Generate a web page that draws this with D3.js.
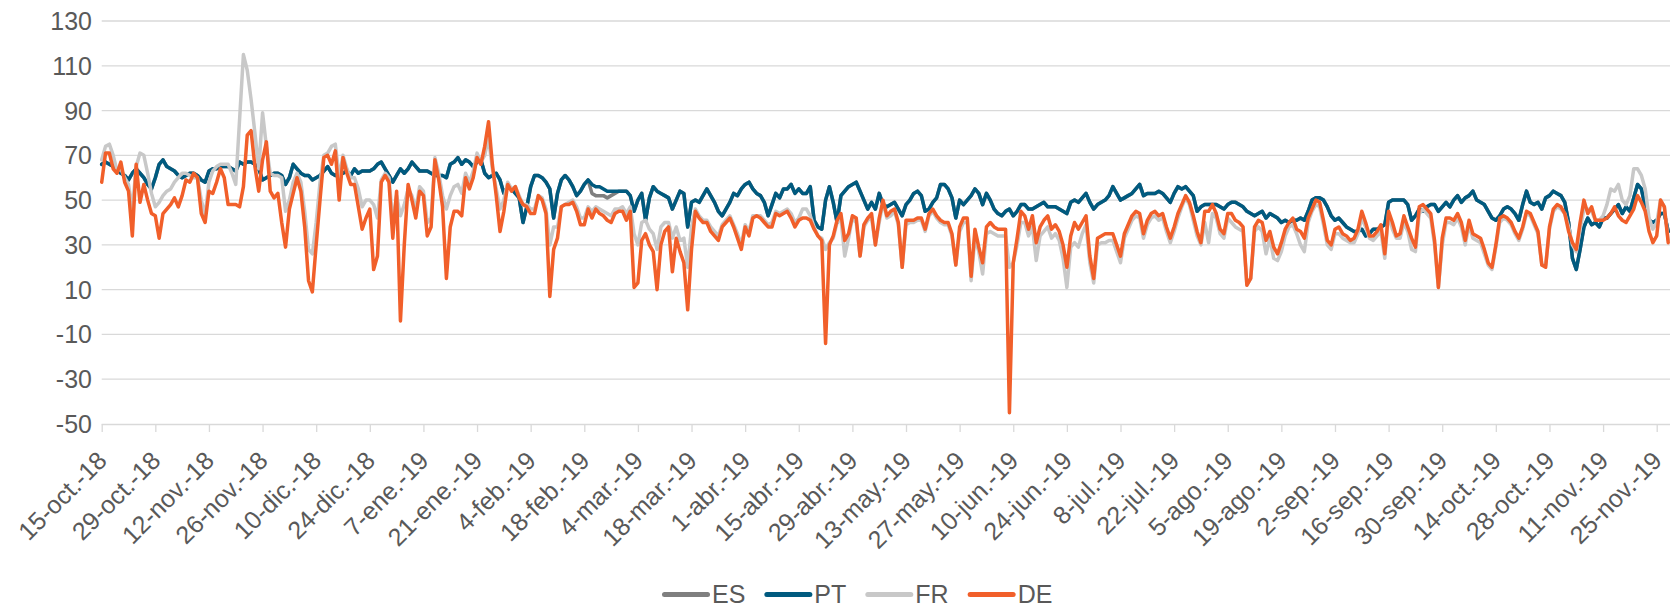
<!DOCTYPE html>
<html><head><meta charset="utf-8">
<script src="https://cdn.jsdelivr.net/npm/d3@7"></script>
<style>body{margin:0;background:#fff;overflow:hidden} text{font-family:"Liberation Sans",Arial,sans-serif}</style>
</head><body><svg id="c" width="1670" height="610"></svg>
<script>
const startDate = "2018-10-15";
const tickDates = ["2018-10-15","2018-10-29","2018-11-12","2018-11-26","2018-12-10","2018-12-24","2019-01-07","2019-01-21","2019-02-04","2019-02-18","2019-03-04","2019-03-18","2019-04-01","2019-04-15","2019-04-29","2019-05-13","2019-05-27","2019-06-10","2019-06-24","2019-07-08","2019-07-22","2019-08-05","2019-08-19","2019-09-02","2019-09-16","2019-09-30","2019-10-14","2019-10-28","2019-11-11","2019-11-25"];
const tickLabels = ["15-oct.-18","29-oct.-18","12-nov.-18","26-nov.-18","10-dic.-18","24-dic.-18","7-ene.-19","21-ene.-19","4-feb.-19","18-feb.-19","4-mar.-19","18-mar.-19","1-abr.-19","15-abr.-19","29-abr.-19","13-may.-19","27-may.-19","10-jun.-19","24-jun.-19","8-jul.-19","22-jul.-19","5-ago.-19","19-ago.-19","2-sep.-19","16-sep.-19","30-sep.-19","14-oct.-19","28-oct.-19","11-nov.-19","25-nov.-19"];
const yTicks = [-50,-30,-10,10,30,50,70,90,110,130];
const seriesNames = ["ES","PT","FR","DE"];
const seriesColors = ["#7f7f7f","#005a7f","#c8c8c8","#f15f2a"];

const ES = [
66,67,66,65,64,62,61,59,62,64, 62,60,57,55,60,66,68,65,64,63, 61,60,61,62,62,61,59,58,63,64, 64,65,65,65,64,63,67,66,67,67,
66,64,59,60,61,62,62,61,57,60, 66,64,62,61,61,59,60,61,63,65, 62,61,62,62,63,61,64,62,63,63, 63,64,66,67,64,61,58,61,64,62,
64,67,65,63,63,63,62,61,61,61, 60,66,67,69,66,68,67,65,67,68, 62,60,61,62,59,53,56,55,53,51, 40,47,56,61,61,60,58,55,42,53,
59,61,59,56,52,54,57,59,53,52, 52,52,51,52,53,54,54,54,52,45, 50,53,41,51,56,54,53,52,51,46, 50,54,53,38,49,50,49,52,55,52,
49,45,43,46,49,53,52,55,57,58, 55,53,52,49,43,48,53,51,55,55, 57,53,55,53,53,56,41,38,37,50, 56,49,40,52,54,56,57,58,54,50,
46,49,46,53,48,47,48,49,46,43, 48,50,53,54,52,45,46,49,51,57, 57,55,51,42,50,48,50,52,55,53, 48,53,50,46,44,43,45,46,43,45,
48,48,46,46,47,48,49,47,47,47, 46,45,44,49,50,49,51,53,49,46, 48,49,50,52,56,53,50,51,52,53, 55,57,52,53,53,53,54,53,51,49,
53,56,55,56,54,52,45,47,48,48, 48,48,47,46,48,49,49,48,47,45, 44,43,44,45,42,44,43,42,40,41, 40,41,41,42,41,45,50,51,51,50,
47,43,41,42,40,38,37,36,36,37, 34,35,37,37,38,39,49,50,50,50, 50,48,41,43,46,45,47,48,48,45, 47,49,47,50,52,49,51,52,54,50,
49,48,45,42,41,43,46,47,46,44, 41,48,54,49,48,49,46,51,52,54, 53,52,49,40,24,19,28,38,42,39, 40,38,42,42,44,46,48,44,47,45,
51,57,55,47,41,40,41,44,44,36];

const PT = [
66,67,66,65,64,62,61,59,62,64, 62,60,57,55,60,66,68,65,64,63, 61,60,61,62,62,61,59,58,63,64, 64,65,65,65,64,63,67,66,67,67,
66,64,59,60,61,62,62,61,57,60, 66,64,62,61,61,59,60,61,63,65, 62,61,62,62,63,61,64,62,63,63, 63,64,66,67,64,61,58,61,64,62,
64,67,65,63,63,63,62,61,61,61, 60,66,67,69,66,68,67,65,67,68, 62,60,61,62,59,53,56,55,53,51, 40,47,56,61,61,60,58,55,42,53,
59,61,59,56,52,54,57,59,57,56, 56,55,54,54,54,54,54,54,52,45, 50,53,41,51,56,54,53,52,51,46, 50,54,53,38,49,50,49,52,55,52,
49,45,43,46,49,53,52,55,57,58, 55,53,52,49,43,48,53,51,55,55, 57,53,55,53,53,56,41,38,37,50, 56,49,40,52,54,56,57,58,54,50,
46,49,46,53,48,47,48,49,46,43, 48,50,53,54,52,45,46,49,51,57, 57,55,51,42,50,48,50,52,55,53, 48,53,50,46,44,43,45,46,43,45,
48,48,46,46,47,48,49,47,47,47, 46,45,44,49,50,49,51,53,49,46, 48,49,50,52,56,53,50,51,52,53, 55,57,52,53,53,53,54,53,51,49,
53,56,55,56,54,52,45,47,48,48, 48,48,47,46,48,49,49,48,47,45, 44,43,44,45,42,44,43,42,40,41, 40,41,41,42,41,45,50,51,51,50,
47,43,41,42,40,38,37,36,36,37, 34,35,37,37,38,39,49,50,50,50, 50,48,41,43,46,45,47,48,48,45, 47,49,47,50,52,49,51,52,54,50,
49,48,45,42,41,43,46,47,46,44, 41,48,54,49,48,49,46,51,52,54, 53,52,49,40,24,19,28,38,42,39, 40,38,42,42,44,46,48,44,47,45,
51,57,55,47,41,40,41,44,44,36];

const FR = [
68,74,75,70,63,64,60,57,46,65, 71,70,62,53,47,49,52,54,55,58, 60,62,62,61,60,60,50,43,58,63, 65,66,66,66,62,57,86,115,108,95,
80,64,89,74,62,61,61,60,45,50, 58,62,58,45,28,26,40,58,70,71, 74,75,60,70,64,60,60,55,47,50, 50,48,42,59,62,60,40,52,43,48,
55,52,46,56,54,40,42,69,62,52, 46,52,56,57,53,62,58,63,71,67, 70,78,64,55,46,50,58,55,56,52, 48,48,46,46,52,51,46,30,38,38,
47,48,49,50,47,42,42,47,45,47, 46,45,44,43,46,46,47,44,47,35, 30,40,41,37,35,28,38,40,40,33, 38,32,33,20,38,46,43,41,41,38,
36,34,39,41,43,39,35,30,39,36, 43,43,43,41,39,40,45,44,45,46, 44,40,42,46,46,43,38,34,33,28, 31,33,40,42,25,33,42,40,25,38,
41,42,30,40,49,42,43,45,39,20, 39,40,40,41,41,36,43,45,42,40, 39,39,34,21,36,40,40,14,33,27, 17,35,36,35,34,34,34,20,22,30,
40,40,34,38,23,34,36,38,33,35, 32,24,11,29,31,29,35,39,22,13, 30,31,31,32,32,27,22,33,37,41, 43,42,33,39,42,43,41,42,36,31,
36,42,47,51,48,41,34,30,40,31, 44,42,35,33,42,40,38,37,36,12, 15,36,38,36,26,33,24,23,27,34, 38,39,35,30,27,40,45,48,47,39,
30,28,35,35,33,32,31,31,35,42, 38,33,32,34,36,24,44,37,33,33, 40,36,28,27,44,46,44,42,30,11, 30,40,40,39,42,38,30,39,33,32,
31,26,21,19,29,40,42,41,39,35, 32,37,44,43,39,35,21,21,37,45, 47,46,44,38,30,27,37,46,46,45, 41,41,43,48,55,54,57,50,48,52,
64,64,61,55,42,37,40,50,47,32];

const DE = [
58,71,71,64,62,67,58,54,34,66, 49,57,50,44,43,33,44,46,48,51, 47,52,59,58,62,60,44,40,54,53, 58,64,60,48,48,48,47,56,79,81,
65,54,68,76,54,51,53,40,29,46, 53,60,54,38,14,9,30,50,69,70, 66,72,50,69,62,57,57,47,37,42, 46,19,25,58,61,58,33,54,-4,30,
57,50,42,54,52,34,38,68,59,47, 15,38,45,45,43,60,55,60,69,66, 74,85,66,52,36,45,57,54,56,51, 48,47,44,44,52,50,44,7,28,33,
47,48,48,49,45,39,39,46,42,46, 44,43,41,40,44,45,45,41,45,11, 13,32,35,30,27,10,30,36,38,18, 33,27,22,1,28,45,42,40,40,36,
34,32,38,40,42,38,33,28,38,34, 42,43,42,40,38,38,44,43,44,45, 42,38,41,42,42,41,37,34,32,-14, 30,34,41,44,32,35,43,42,25,39,
42,44,30,42,50,43,45,46,40,20, 41,41,41,42,42,37,44,46,43,41, 40,40,35,21,38,42,42,16,37,29, 22,38,40,38,37,37,37,-45,22,33,
45,43,37,43,31,38,41,43,37,39, 36,30,20,34,40,37,40,43,25,15, 33,34,35,35,35,30,25,35,39,43, 45,44,35,41,44,45,43,44,38,33,
38,44,48,52,49,43,36,31,45,45, 48,44,37,35,44,44,41,40,38,12, 15,38,41,40,32,36,29,26,31,37, 40,42,37,36,33,42,46,50,49,41,
32,30,37,38,35,34,32,33,37,45, 40,34,34,36,39,26,45,40,34,35, 43,38,33,29,47,48,46,44,32,11, 33,42,42,41,44,40,32,41,35,34,
33,28,22,20,30,42,43,42,40,36, 33,38,45,44,40,36,21,20,38,46, 48,47,44,36,31,28,40,50,44,47, 41,41,41,42,44,47,43,41,40,43,
46,52,49,45,36,31,34,50,47,31];

const seriesValues = [ES, PT, FR, DE];

const svg = d3.select("#c");
svg.append("rect").attr("width",1670).attr("height",610).attr("fill","#fff");
const start = new Date(startDate + "T00:00:00Z");
const nDays = DE.length;
const dates = d3.range(nDays).map(i => d3.utcDay.offset(start, i));
const x = d3.scaleUtc().domain([dates[0], dates[nDays-1]]).range([101.7, 1668.2]);
const y = d3.scaleLinear().domain([-50,130]).range([424,21]);

// gridlines
svg.append("g").selectAll("line").data(yTicks.filter(v=>v>-50)).join("line")
  .attr("x1",101.7).attr("x2",1670).attr("y1",d=>y(d)).attr("y2",d=>y(d))
  .attr("stroke","#d9d9d9").attr("stroke-width",1.3);

// y labels
svg.append("g").selectAll("text").data(yTicks).join("text")
  .attr("x",92).attr("y",d=>y(d)).attr("dy","0.36em").attr("text-anchor","end")
  .attr("font-size",25).attr("fill","#595959").text(d=>d);

// x axis
const tDates = tickDates.map(s=>new Date(s+"T00:00:00Z"));
const xAxis = d3.axisBottom(x).tickValues(tDates).tickSize(8).tickFormat((d,i)=>tickLabels[i]);
const gx = svg.append("g").attr("transform","translate(0,424)").call(xAxis);
gx.select(".domain").attr("stroke","#d9d9d9").attr("stroke-width",1.3).attr("d","M101.7,0.5H1670");
gx.selectAll(".tick line").attr("stroke","#d9d9d9").attr("stroke-width",1.3);
gx.selectAll(".tick text").attr("font-size",25).attr("fill","#595959")
  .attr("text-anchor","end").attr("y",0).attr("dy","0.35em")
  .attr("transform","translate(0,32) rotate(-45)");

// lines
const line = d3.line().x((d,i)=>x(dates[i])).y(d=>y(d));
svg.append("g").selectAll("path").data(seriesValues).join("path")
  .attr("d",d=>line(d)).attr("fill","none")
  .attr("stroke",(d,i)=>seriesColors[i]).attr("stroke-width",3.5)
  .attr("stroke-linejoin","round").attr("stroke-linecap","round");

// legend
const lg = svg.append("g");
let lx = 662;
seriesNames.forEach((n,i)=>{
  lg.append("line").attr("x1",lx+2.5).attr("x2",lx+45.5).attr("y1",594.5).attr("y2",594.5)
    .attr("stroke",seriesColors[i]).attr("stroke-width",5).attr("stroke-linecap","round");
  const t = lg.append("text").attr("x",lx+50).attr("y",603).attr("font-size",25).attr("fill","#595959").text(n);
  lx = lx + 50 + t.node().getComputedTextLength() + 19;
});
</script></body></html>
